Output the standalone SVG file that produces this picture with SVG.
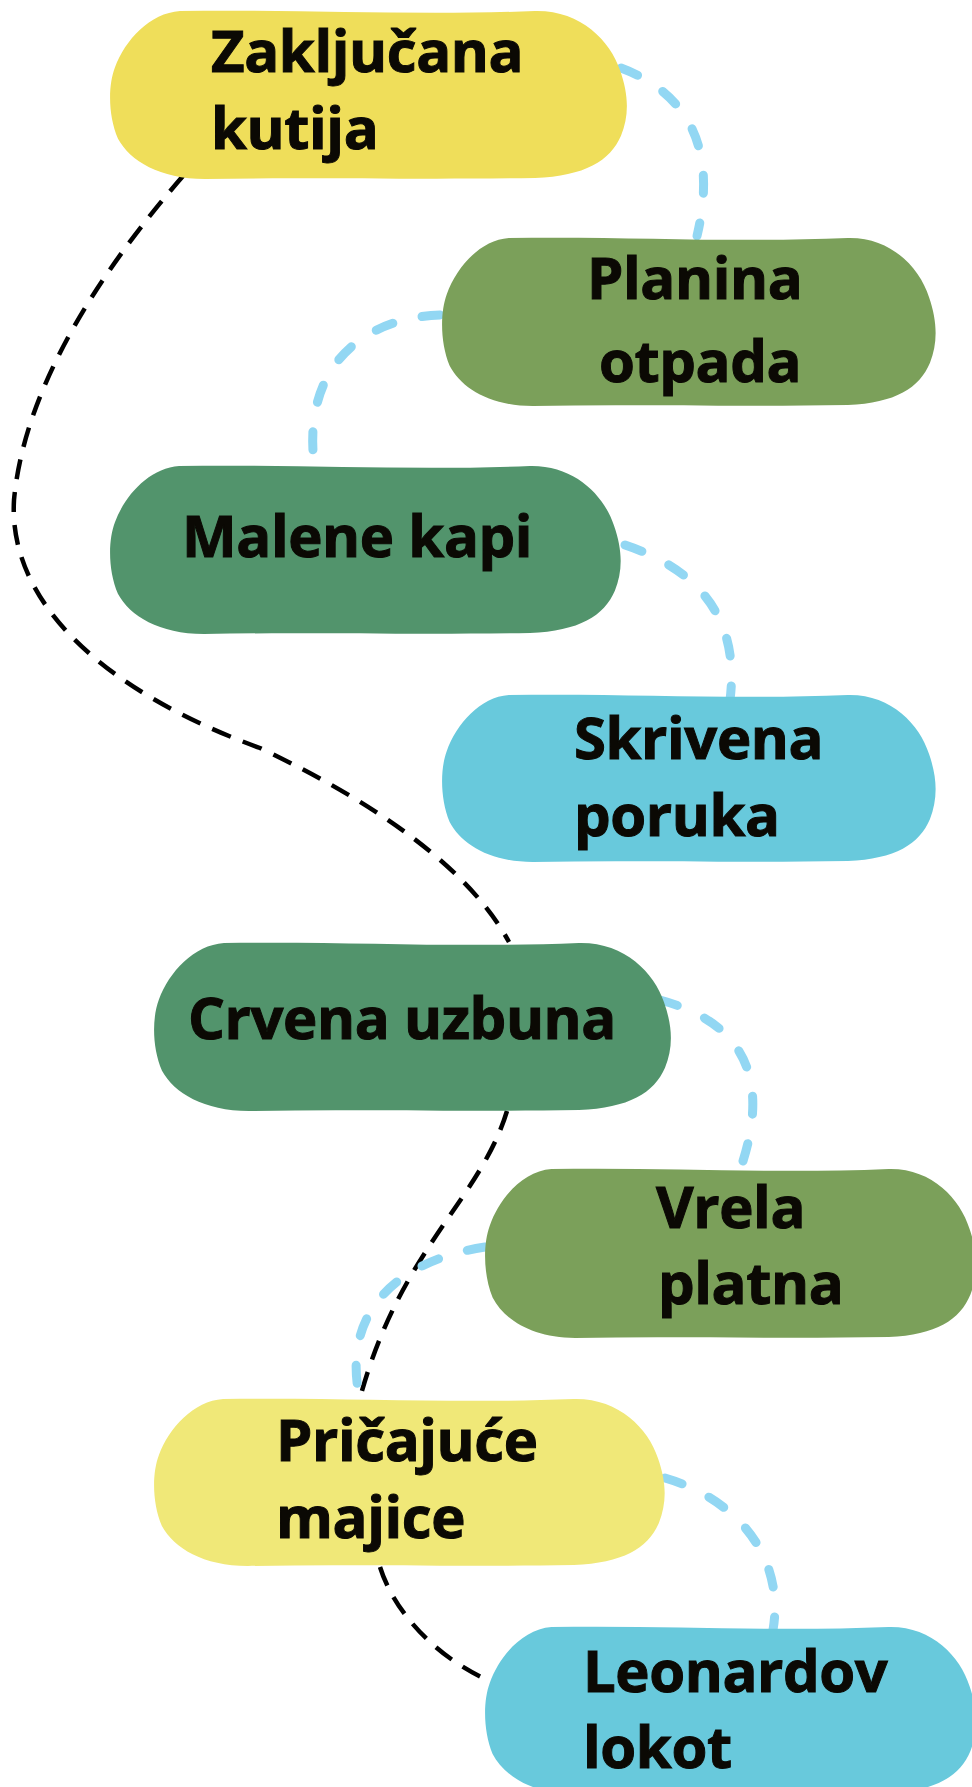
<svg xmlns="http://www.w3.org/2000/svg" width="972" height="1787" viewBox="0 0 972 1787">
<style>
.lbl{font-family:"Open Sans","Liberation Sans",sans-serif;font-weight:700;font-size:58px;letter-spacing:-0.4px;fill:#0b0904;stroke:#0b0904;stroke-width:1}
.blk{fill:none;stroke:#000;stroke-width:4.5;stroke-dasharray:20 13}
.blu{fill:none;stroke:#92d7f3;stroke-width:9;stroke-linecap:round;stroke-dasharray:18 30}
.yel{fill:#efde5a}.yel2{fill:#f0e878}.grn{fill:#7ba05a}.dgr{fill:#52946c}.blue{fill:#68c9dc}
</style>
<defs>
<path id="blob" d="M70 1C190 -1 300 6 425 1C470 0 500 30 510 60C519 85 519 105 511 125C500 150 475 165 425 167C300 169 200 166 95 168C50 168 20 150 8 128C-2 105 -2 75 5 57C15 30 40 3 70 1Z"/>
</defs>
<rect width="972" height="1787" fill="#fff"/>
<g id="connectors">
<path class="blk" d="M183 176C110 260 25 380 14 500C8 600 100 690 260 748C380 805 470 870 509 942"/>
<path class="blk" d="M507 1111C480 1200 400 1250 360 1398"/>
<path class="blk" d="M380 1567C395 1615 440 1660 492 1682"/>
<path class="blu" d="M621 68C680 90 720 140 697 236"/>
<path class="blu" d="M440 315C360 318 300 370 315 470"/>
<path class="blu" d="M625 545C700 570 740 620 730 700"/>
<path class="blu" d="M660 1000C735 1020 775 1070 740 1170"/>
<path class="blu" d="M485 1247C400 1260 340 1310 360 1400"/>
<path class="blu" d="M665 1478C740 1500 785 1560 773 1630"/>
</g>
<g id="n1"><use href="#blob" class="yel" transform="translate(110 10) scale(1 1.006)"/><text class="lbl" x="211" y="72">Zaključana</text><text class="lbl" x="211" y="149">kutija</text></g>
<g id="n2"><use href="#blob" class="grn" transform="translate(442 237) scale(0.955 1.006)"/><text class="lbl" x="587" y="299">Planina</text><text class="lbl" x="599" y="382">otpada</text></g>
<g id="n3"><use href="#blob" class="dgr" transform="translate(110 465) scale(0.988 1.006)"/><text class="lbl" x="182" y="557">Malene kapi</text></g>
<g id="n4"><use href="#blob" class="blue" transform="translate(442 694) scale(0.955 1)"/><text class="lbl" x="574" y="759">Skrivena</text><text class="lbl" x="574" y="836">poruka</text></g>
<g id="n5"><use href="#blob" class="dgr" transform="translate(154 942) scale(1 1.006)"/><text class="lbl" x="188" y="1039">Crvena uzbuna</text></g>
<g id="n6"><use href="#blob" class="grn" transform="translate(485 1168) scale(0.95 1.012)"/><text class="lbl" x="656" y="1228">Vrela</text><text class="lbl" x="658" y="1304">platna</text></g>
<g id="n7"><use href="#blob" class="yel2" transform="translate(154 1398) scale(0.988 1)"/><text class="lbl" x="276" y="1461">Pričajuće</text><text class="lbl" x="276" y="1538">majice</text></g>
<g id="n8"><use href="#blob" class="blue" transform="translate(485 1626) scale(0.95 1)"/><text class="lbl" x="583" y="1692">Leonardov</text><text class="lbl" x="583" y="1768">lokot</text></g>
</svg>
